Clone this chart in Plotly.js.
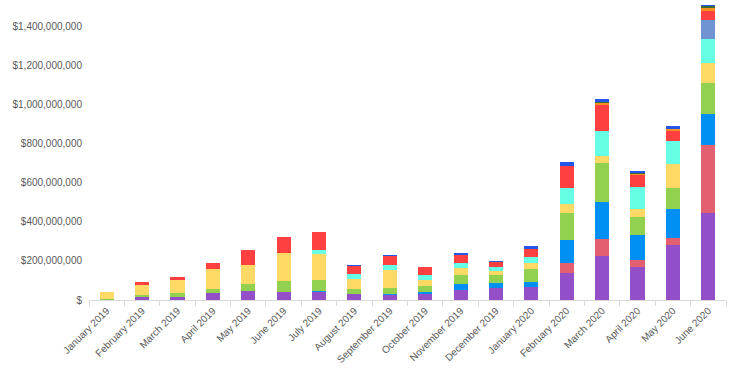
<!DOCTYPE html>
<html><head><meta charset="utf-8">
<script src="https://cdn.plot.ly/plotly-3.0.1.min.js"></script>
<style>html,body{margin:0;padding:0;background:#fff;}#chart{width:750px;height:375px;}</style>
</head><body><div id="chart"></div>
<script>
const months = ["January 2019","February 2019","March 2019","April 2019","May 2019","June 2019","July 2019","August 2019","September 2019","October 2019","November 2019","December 2019","January 2020","February 2020","March 2020","April 2020","May 2020","June 2020"];
// values in millions of dollars, bottom-to-top stacking order
const purple  = [0,15,17,36,48,42,42,31,27,31,53,59,65,138,226,170,281,446];
const pink    = [0,0,0,0,0,0,0,0,0,0,0,0,0,53,85,36,37,346];
const blue    = [0,0,0,0,0,0,5,0,2,8,29,26,29,116,191,126,148,158];
const green   = [6,10,19,22,34,56,55,27,31,31,48,41,66,136,198,90,107,157];
const yellow  = [34,51,64,101,95,142,134,48,92,33,31,20,29,46,37,44,121,102];
const cyan    = [0,0,0,0,0,0,19,29,27,27,29,24,29,82,129,109,116,124];
const slate   = [0,0,0,0,0,0,0,0,0,0,0,0,0,0,0,0,0,97];
const red     = [0,17,17,29,80,83,94,41,44,37,39,22,42,114,133,66,56,48];
const orange  = [0,0,0,0,0,0,0,0,0,0,0,0,0,0,9,5,8,15];
const dgreen  = [0,0,0,0,0,0,0,0,0,0,0,0,0,0,4,2,0,10];
const dblue   = [0,0,0,0,0,0,0,5,7,4,9,5,14,22,15,12,14,5];
const yTickVals = [0,200,400,600,800,1000,1200,1400];
const yTickText = ["$","$200,000,000","$400,000,000","$600,000,000","$800,000,000","$1,000,000,000","$1,200,000,000","$1,400,000,000"];

const series = [
  [purple,"#924fc8"],[pink,"#e2606f"],[blue,"#0090f3"],[green,"#92d050"],
  [yellow,"#ffd966"],[cyan,"#66ffe6"],[slate,"#7094d2"],[red,"#ff4040"],
  [orange,"#f7901e"],[dgreen,"#3d6b35"],[dblue,"#2457e8"]
];
const traces = series.map(([vals,col],i)=>({
  type:"bar", x:months, y:vals.map(v=>v*1e6), marker:{color:col, line:{width:0}},
  showlegend:false, hoverinfo:"skip"
}));
const layout = {
  width:750, height:375, barmode:"stack", bargap:0.6,
  margin:{l:89,r:24,t:0,b:75}, paper_bgcolor:"#fff", plot_bgcolor:"#fff",
  font:{family:"Liberation Sans, Arial, sans-serif", size:10, color:"#595959"},
  xaxis:{type:"category", tickangle:-45, showline:true, linecolor:"#d9d9d9", linewidth:1,
    ticks:"outside", tickson:"boundaries", ticklen:5, tickcolor:"#d9d9d9",
    showgrid:false, zeroline:false, tickfont:{size:10,color:"#595959"}},
  yaxis:{range:[0,1.533e9], tickvals:yTickVals.map(v=>v*1e6), ticktext:yTickText,
    showgrid:false, zeroline:false, showline:false, ticks:"", ticklabelstandoff:6,
    tickfont:{size:10,color:"#595959"}}
};
Plotly.newPlot("chart", traces, layout, {staticPlot:true, displayModeBar:false});
</script></body></html>
